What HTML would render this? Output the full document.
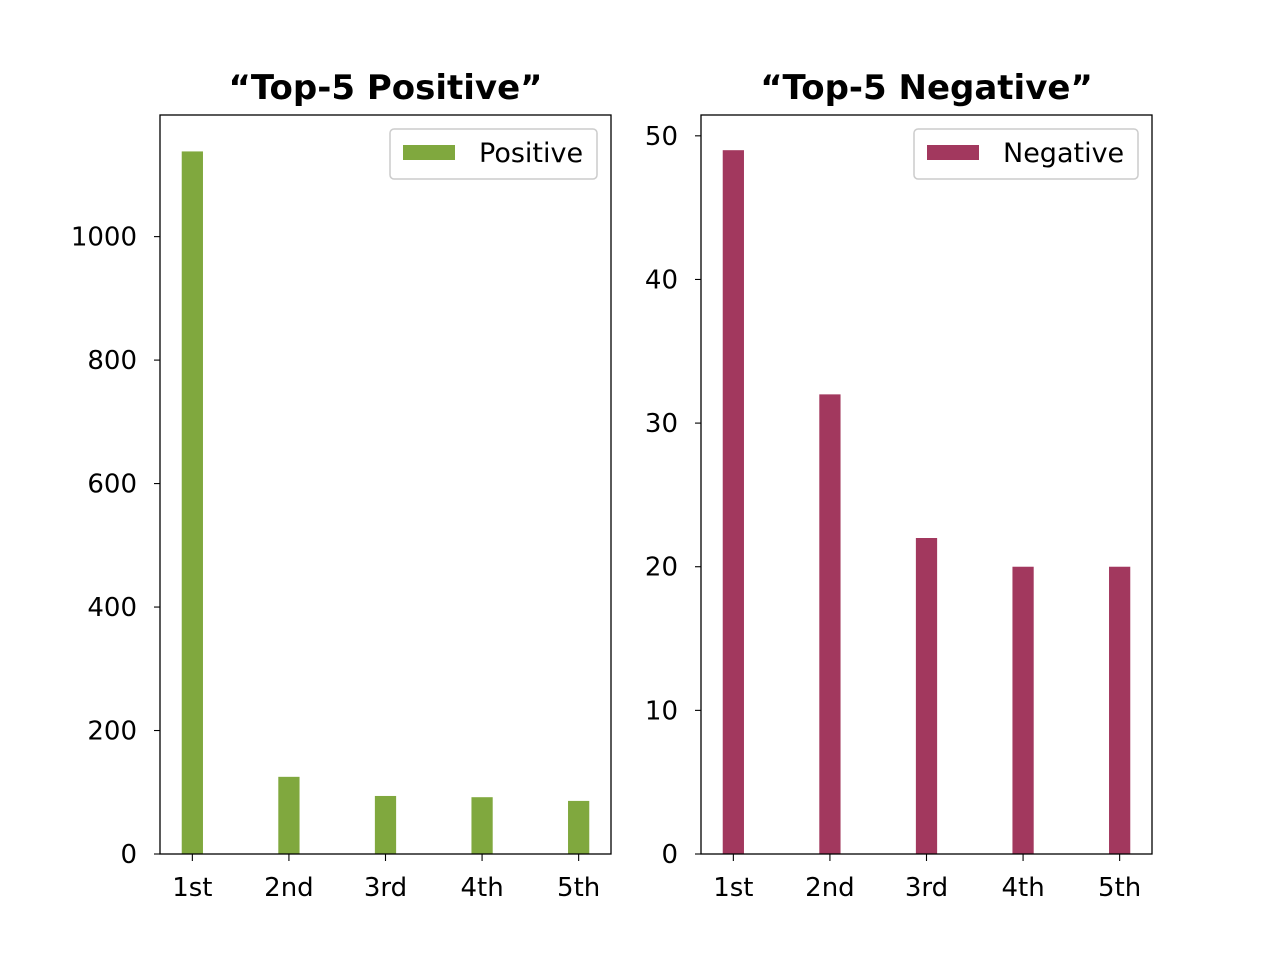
<!DOCTYPE html>
<html><head><meta charset="utf-8"><style>
body{margin:0;background:#fff;}
svg text{font-family:"DejaVu Sans","Liberation Sans",sans-serif;}
</style></head>
<body>
<svg id="chart" width="1280" height="960" xmlns="http://www.w3.org/2000/svg"></svg>
<script>
const categories = ["1st","2nd","3rd","4th","5th"];
const positiveValues = [1138,125,94,92,86];
const negativeValues = [49,32,22,20,20];
const positiveTicks = [0,200,400,600,800,1000];
const negativeTicks = [0,10,20,30,40,50];

const NS="http://www.w3.org/2000/svg";
const svg=document.getElementById('chart');
function mk(tag,attrs,parent){const e=document.createElementNS(NS,tag);for(const k in attrs)e.setAttribute(k,attrs[k]);(parent||svg).appendChild(e);return e;}

function panel(cfg){
  const g=mk('g',{});
  
  
  const x0=cfg.x0,x1=cfg.x1,yTop=115,yBot=854;
  const xmin=-0.335,xmax=4.335;
  const xs=v=>x0+(v-xmin)/(xmax-xmin)*(x1-x0);
  const ys=v=>yBot-(v-cfg.ymin)/(cfg.ymax-cfg.ymin)*(yBot-yTop);
  const bw=0.22;
  cfg.values.forEach((v,i)=>{
    const r=mk('rect',{x:xs(i-bw/2),y:ys(v),width:xs(bw)-xs(0),height:ys(0)-ys(v),fill:cfg.color},g);
    
    
  });
  const frame=mk('rect',{x:x0,y:yTop,width:x1-x0,height:yBot-yTop,fill:'none',stroke:'#000','stroke-width':1.3},g);
  
  
  cfg.ticks.forEach(t=>{
    const y=ys(t);
    mk('line',{x1:x0-6,x2:x0,y1:y,y2:y,stroke:'#000','stroke-width':1.1},g);
    const tx=mk('text',{x:x0-23,y:y+9,'text-anchor':'end','font-size':26},g);
    tx.textContent=t;
    
    
  });
  categories.forEach((c,i)=>{
    const x=xs(i);
    mk('line',{x1:x,x2:x,y1:yBot,y2:yBot+7,stroke:'#000','stroke-width':1.1},g);
    const tx=mk('text',{x:x,y:yBot+42,'text-anchor':'middle','font-size':26},g);
    tx.textContent=c;
    
    
  });
  const title=mk('text',{x:(x0+x1)/2,y:99,'text-anchor':'middle','font-size':34,'font-weight':'bold'},g);
  title.textContent=cfg.title;
  
  
  const lg=mk('g',{},g);
  
  
  mk('rect',{x:cfg.lx,y:129,width:x1-14-cfg.lx,height:50,rx:4,fill:'#fff',stroke:'#ccc','stroke-width':1.5},lg);
  mk('rect',{x:cfg.lx+13,y:145,width:52,height:15,fill:cfg.color},lg);
  const lt=mk('text',{x:cfg.lx+89,y:162,'font-size':27},lg);
  lt.textContent=cfg.label;
}
panel({name:'positive-panel',x0:160,x1:611,ymin:0,ymax:1197,values:positiveValues,ticks:positiveTicks,color:'#80a83e',title:'\u201cTop-5 Positive\u201d',label:'Positive',lx:390});
panel({name:'negative-panel',x0:701,x1:1152,ymin:0,ymax:51.45,values:negativeValues,ticks:negativeTicks,color:'#a2385e',title:'\u201cTop-5 Negative\u201d',label:'Negative',lx:914});
</script>
</body></html>
